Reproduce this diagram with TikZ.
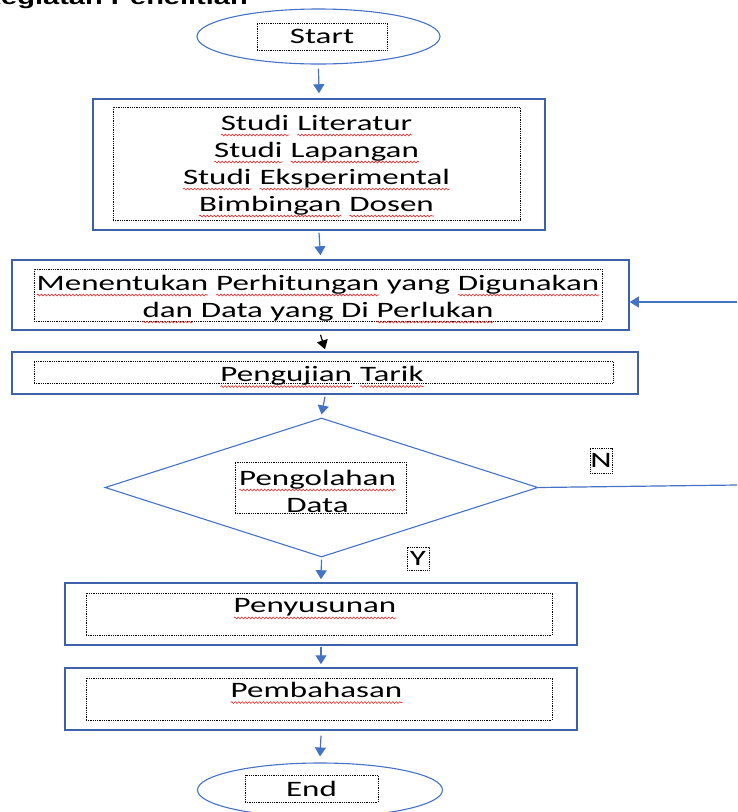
\documentclass[tikz,border=0pt]{standalone}
\usepackage{fontspec}
\usetikzlibrary{shapes.geometric,arrows.meta,decorations.pathmorphing}
\newfontfamily\calstr[FakeStretch=1.5]{Carlito}
\newfontfamily\titlefont[FakeStretch=1.45]{Liberation Sans}
\definecolor{flowblue}{RGB}{68,114,196}
\definecolor{boxblue}{RGB}{62,98,170}
\definecolor{squig}{RGB}{230,40,40}
\newcommand\txtfont{\calstr\fontsize{22}{27}\selectfont}
\tikzset{
  sqword/.style={shape=rectangle, draw=none, fill=none, inner sep=0pt, outer sep=0pt,
    minimum width=0pt, minimum height=0pt, anchor=center, align=left},
  sqline/.style={draw=squig, solid, line width=0.6pt, decorate,
    decoration={snake, amplitude=0.9pt, segment length=3.5pt}},
  outerbox/.style={draw=boxblue, line width=1.5pt, inner sep=0pt},
  oval/.style={ellipse, draw=flowblue, line width=1.1pt, inner sep=0pt},
  dotbox/.style={draw=black, line width=0.8pt, dash pattern=on 0.9pt off 0.9pt, inner sep=0pt, font=\txtfont, align=center},
  plain/.style={inner sep=0pt, font=\txtfont, align=center},
  arr/.style={draw=flowblue, line width=1.2pt, -{Triangle[width=11pt,length=9pt]}},
  blackarr/.style={draw=black, line width=1.2pt, -{Triangle[width=11pt,length=9pt]}},
  conn/.style={draw=flowblue, line width=1.2pt}
}
\newcommand\sq[1]{\tikz[baseline=(w.base)]{\node[sqword] (w) {#1};
  \draw[sqline] ([yshift=-5pt]w.base west) -- ([yshift=-5pt]w.base east);}}
\begin{document}
\begin{tikzpicture}[x=1pt,y=-1pt]
\useasboundingbox (0,0) rectangle (737,812);
\clip (0,0) rectangle (737,812);
% title (cut off at top)
\node[anchor=base east, inner sep=0pt, font=\titlefont\bfseries\fontsize{20}{24}\selectfont] (title) at (248,4) {Kegiatan Penelitian};
% start
\node[oval, minimum width=243pt, minimum height=55pt] (start) at (318.5,36.5) {};
\node[dotbox, minimum width=130pt, minimum height=27pt] (starttx) at (322,36.5) {Start};
% box 2
\node[outerbox, minimum width=452pt, minimum height=131pt] (b2) at (319,164.5) {};
\node[dotbox, minimum width=407pt, minimum height=113pt] (b2box) at (316.5,163.5) {};
\node[plain] (b2tx) at (316.5,166)
  {\sq{Studi} \sq{Literatur}\\ \sq{Studi} \sq{Lapangan}\\ \sq{Studi} \sq{Eksperimental}\\ \sq{Bimbingan} \sq{Dosen}};
% box 3
\node[outerbox, minimum width=617pt, minimum height=70pt] (b3) at (320.5,295) {};
\node[dotbox, minimum width=568pt, minimum height=52pt] (b3box) at (318,295) {};
\node[plain] (b3tx) at (318,299)
  {\sq{Menentukan} \sq{Perhitungan} yang \sq{Digunakan}\\ \sq{dan} Data yang Di \sq{Perlukan}};
% box 4
\node[outerbox, minimum width=626pt, minimum height=42pt] (b4) at (325,373) {};
\node[dotbox, minimum width=579pt, minimum height=22pt] (b4box) at (323.5,372) {};
\node[plain] (b4tx) at (322,377) {\sq{Pengujian} \sq{Tarik}};
% decision
\node[diamond, draw=flowblue, line width=1.1pt, inner sep=0pt, minimum width=433pt, minimum height=139pt] (d) at (321.5,487.5) {};
\node[dotbox, minimum width=171pt, minimum height=51pt] (dbox) at (320.5,487.5) {};
\node[plain] (dtx) at (317.5,491) {\sq{Pengolahan}\\Data};
\node[dotbox, minimum width=22pt, minimum height=25pt] (nlab) at (601,460.5) {N};
\node[dotbox, minimum width=22pt, minimum height=23pt] (ylab) at (418,558.5) {Y};
% box 5
\node[outerbox, minimum width=512pt, minimum height=62pt] (b5) at (321,614) {};
\node[dotbox, minimum width=466pt, minimum height=42pt] (b5box) at (319,614) {};
\node[plain] (b5tx) at (315,609) {\sq{Penyusunan}};
% box 6
\node[outerbox, minimum width=512pt, minimum height=62pt] (b6) at (321,699) {};
\node[dotbox, minimum width=466pt, minimum height=42pt] (b6box) at (319,699) {};
\node[plain] (b6tx) at (316.5,693) {\sq{Pembahasan}};
% end
\node[oval, minimum width=245pt, minimum height=54pt] (end) at (320,790) {};
\node[dotbox, minimum width=133pt, minimum height=27pt] (endtx) at (311.5,788.5) {End};
% loop-back coordinates (off the right edge)
\coordinate (nR) at (737,485);
\coordinate (nA) at (737,302);
% connectors
\draw[arr] ([yshift=-4pt]start.south) -- ([yshift=5pt]b2.north);
\draw[arr] ([yshift=-2pt]b2.south) -- ([yshift=4pt]b3.north);
\draw[blackarr] ([yshift=-4pt]b3.south) -- ([yshift=2pt]b4.north);
\draw[arr] ([yshift=-2pt]b4.south) -- ([yshift=3pt]d.north);
\draw[arr] ([yshift=-2pt]d.south) -- ([yshift=3pt]b5.north);
\draw[arr] ([yshift=-1pt]b5.south) -- ([yshift=3pt]b6.north);
\draw[arr] ([yshift=-5pt]b6.south) -- ([yshift=6pt]end.north);
\draw[conn] (d.east) -- (nR);
\draw[arr] (nA) -- (nA -| b3.east);
\end{tikzpicture}
\end{document}
